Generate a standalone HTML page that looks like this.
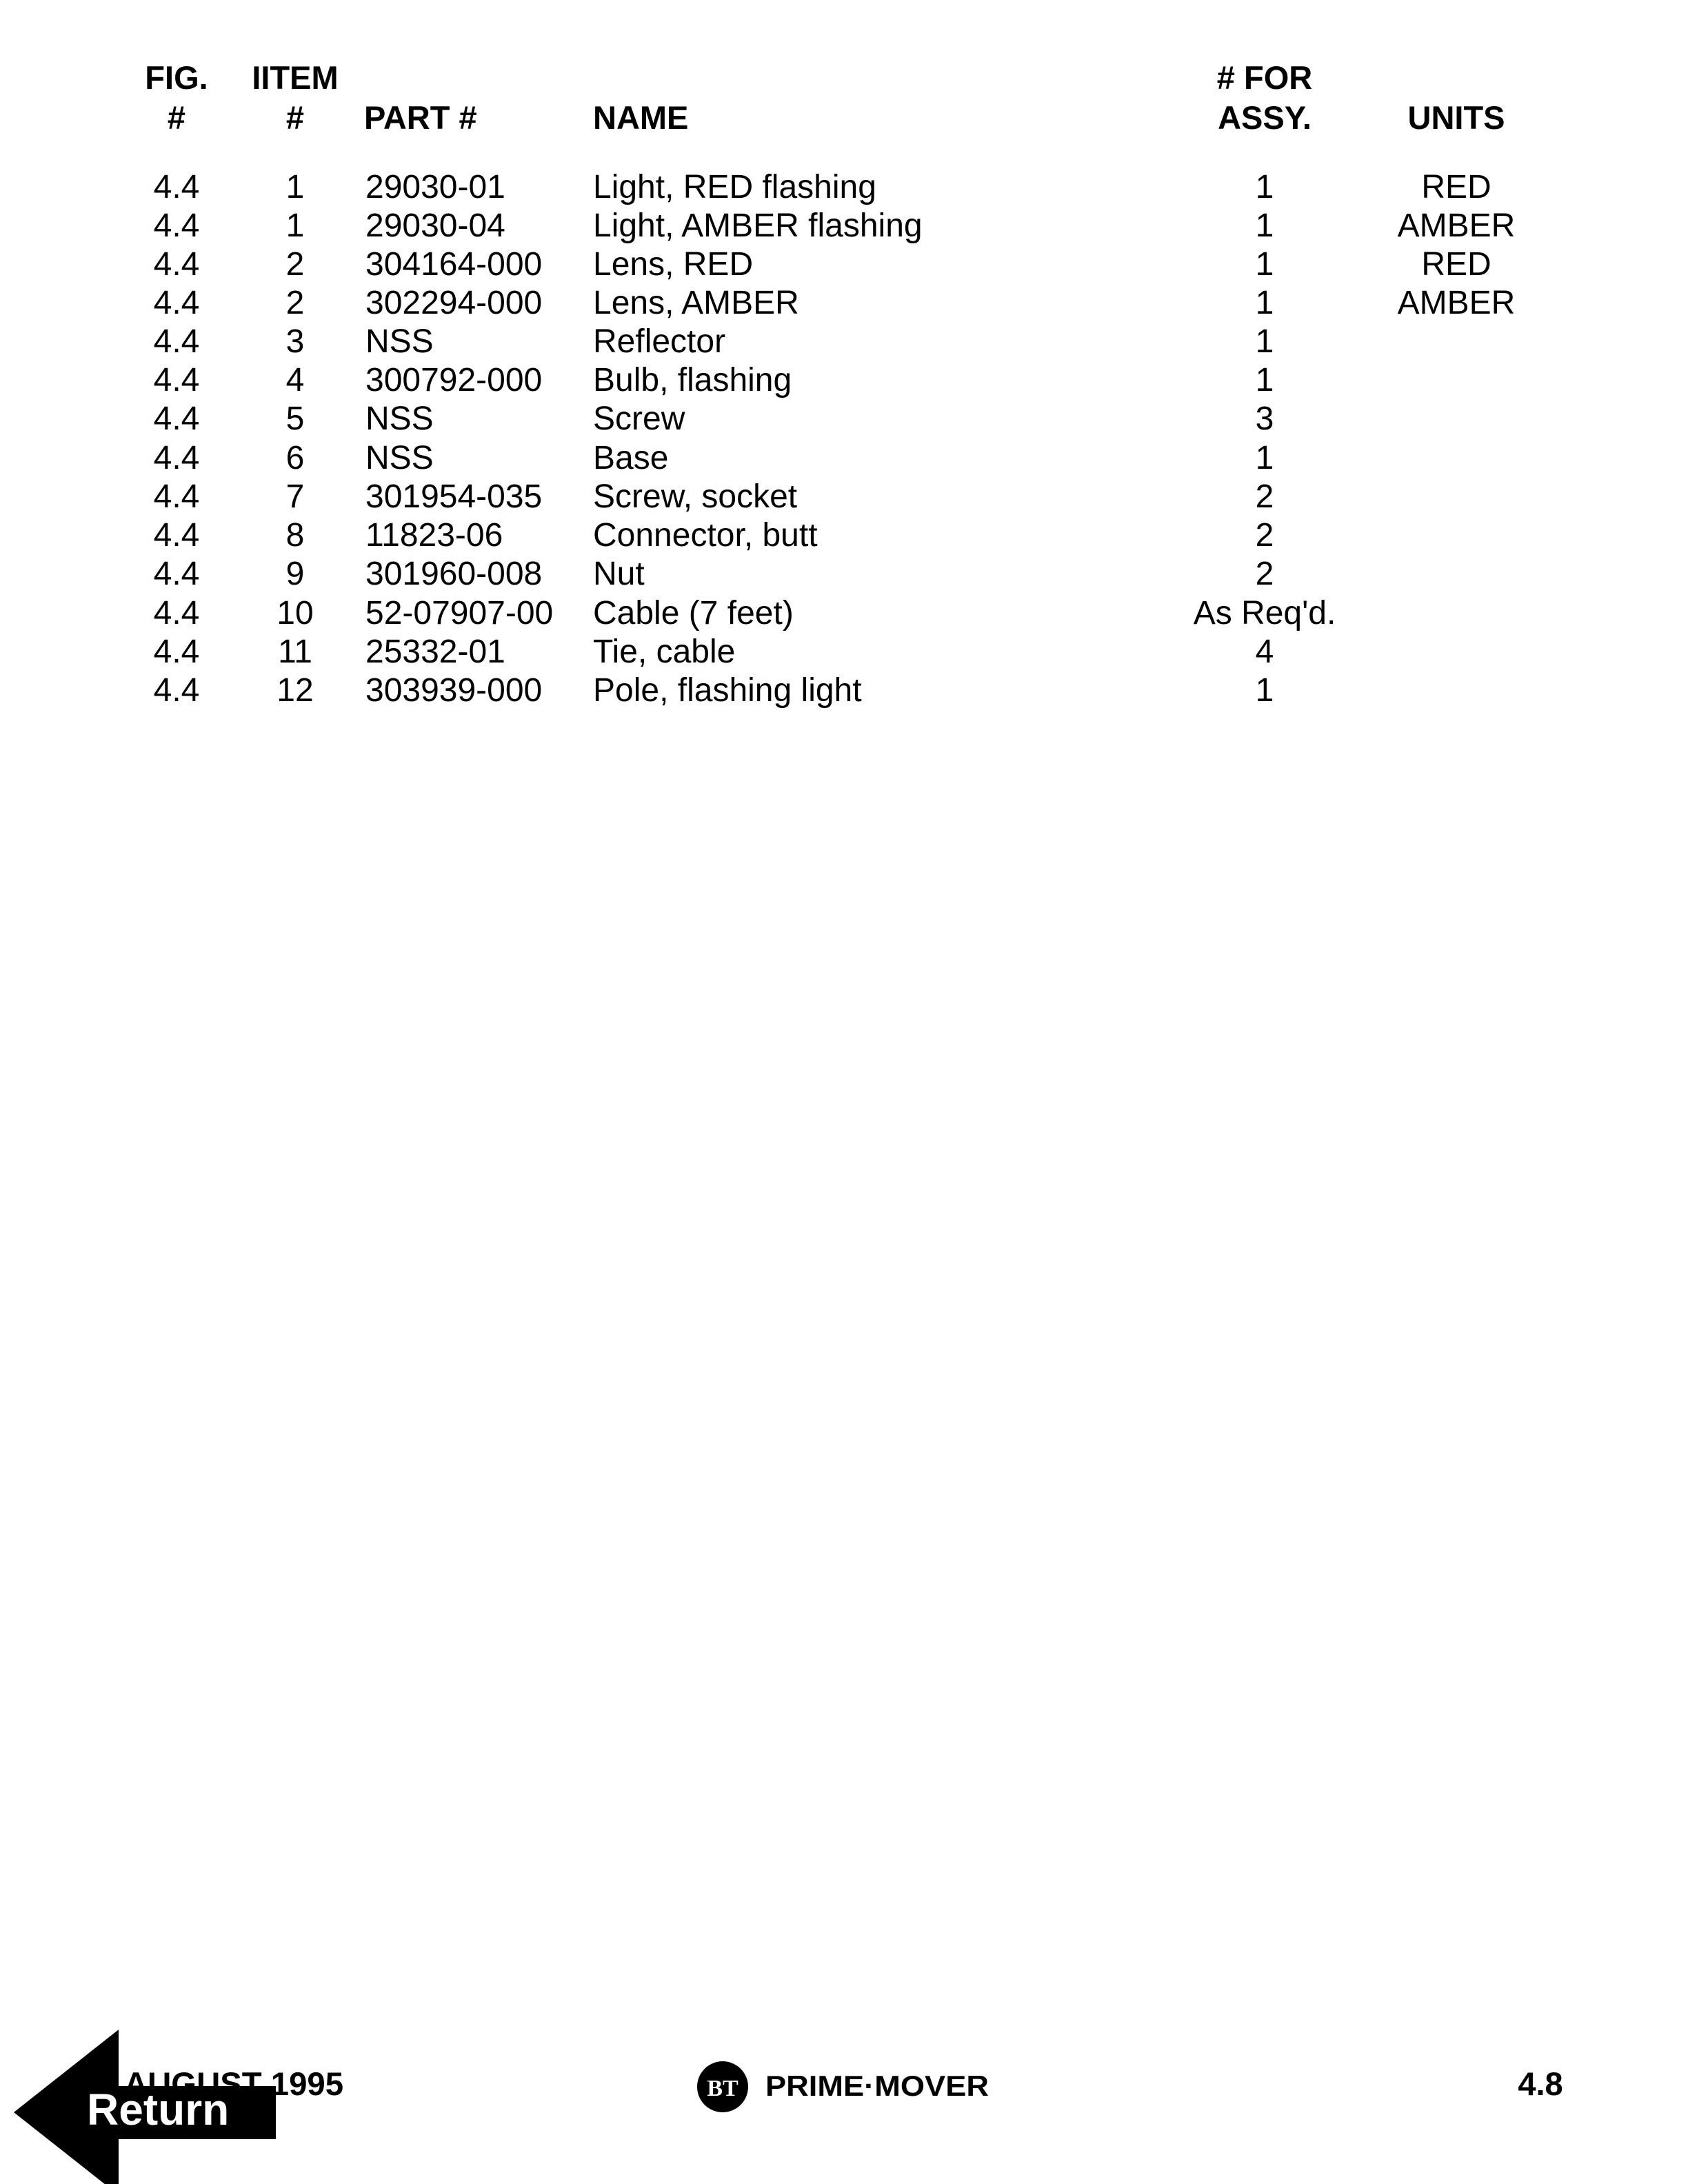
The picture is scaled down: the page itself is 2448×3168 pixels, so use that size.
<!DOCTYPE html>
<html><head><style>
html,body{margin:0;padding:0;background:#fff;}
svg{display:block;}
text{font-family:"Liberation Sans",Arial,sans-serif;fill:#000;}
.h{font-weight:bold;font-size:47px;}
.d{font-size:48px;}
</style></head><body>
<svg width="2448" height="3168" viewBox="0 0 2448 3168" xmlns="http://www.w3.org/2000/svg">
<text x="256" y="129" text-anchor="middle" class="h">FIG.</text>
<text x="428" y="129" text-anchor="middle" class="h">IITEM</text>
<text x="256" y="187" text-anchor="middle" class="h">#</text>
<text x="428" y="187" text-anchor="middle" class="h">#</text>
<text x="528" y="187" class="h">PART #</text>
<text x="860" y="187" class="h">NAME</text>
<text x="1834" y="129" text-anchor="middle" class="h"># FOR</text>
<text x="1834" y="187" text-anchor="middle" class="h">ASSY.</text>
<text x="2112" y="187" text-anchor="middle" class="h">UNITS</text>
<g>
<text x="256" y="287" text-anchor="middle" class="d">4.4</text><text x="428" y="287" text-anchor="middle" class="d">1</text><text x="530" y="287" class="d">29030-01</text><text x="860" y="287" class="d">Light, RED flashing</text><text x="1834" y="287" text-anchor="middle" class="d">1</text><text x="2112" y="287" text-anchor="middle" class="d">RED</text>
<text x="256" y="343" text-anchor="middle" class="d">4.4</text><text x="428" y="343" text-anchor="middle" class="d">1</text><text x="530" y="343" class="d">29030-04</text><text x="860" y="343" class="d">Light, AMBER flashing</text><text x="1834" y="343" text-anchor="middle" class="d">1</text><text x="2112" y="343" text-anchor="middle" class="d">AMBER</text>
<text x="256" y="399" text-anchor="middle" class="d">4.4</text><text x="428" y="399" text-anchor="middle" class="d">2</text><text x="530" y="399" class="d">304164-000</text><text x="860" y="399" class="d">Lens, RED</text><text x="1834" y="399" text-anchor="middle" class="d">1</text><text x="2112" y="399" text-anchor="middle" class="d">RED</text>
<text x="256" y="455" text-anchor="middle" class="d">4.4</text><text x="428" y="455" text-anchor="middle" class="d">2</text><text x="530" y="455" class="d">302294-000</text><text x="860" y="455" class="d">Lens, AMBER</text><text x="1834" y="455" text-anchor="middle" class="d">1</text><text x="2112" y="455" text-anchor="middle" class="d">AMBER</text>
<text x="256" y="511" text-anchor="middle" class="d">4.4</text><text x="428" y="511" text-anchor="middle" class="d">3</text><text x="530" y="511" class="d">NSS</text><text x="860" y="511" class="d">Reflector</text><text x="1834" y="511" text-anchor="middle" class="d">1</text>
<text x="256" y="567" text-anchor="middle" class="d">4.4</text><text x="428" y="567" text-anchor="middle" class="d">4</text><text x="530" y="567" class="d">300792-000</text><text x="860" y="567" class="d">Bulb, flashing</text><text x="1834" y="567" text-anchor="middle" class="d">1</text>
<text x="256" y="623" text-anchor="middle" class="d">4.4</text><text x="428" y="623" text-anchor="middle" class="d">5</text><text x="530" y="623" class="d">NSS</text><text x="860" y="623" class="d">Screw</text><text x="1834" y="623" text-anchor="middle" class="d">3</text>
<text x="256" y="680" text-anchor="middle" class="d">4.4</text><text x="428" y="680" text-anchor="middle" class="d">6</text><text x="530" y="680" class="d">NSS</text><text x="860" y="680" class="d">Base</text><text x="1834" y="680" text-anchor="middle" class="d">1</text>
<text x="256" y="736" text-anchor="middle" class="d">4.4</text><text x="428" y="736" text-anchor="middle" class="d">7</text><text x="530" y="736" class="d">301954-035</text><text x="860" y="736" class="d">Screw, socket</text><text x="1834" y="736" text-anchor="middle" class="d">2</text>
<text x="256" y="792" text-anchor="middle" class="d">4.4</text><text x="428" y="792" text-anchor="middle" class="d">8</text><text x="530" y="792" class="d">11823-06</text><text x="860" y="792" class="d">Connector, butt</text><text x="1834" y="792" text-anchor="middle" class="d">2</text>
<text x="256" y="848" text-anchor="middle" class="d">4.4</text><text x="428" y="848" text-anchor="middle" class="d">9</text><text x="530" y="848" class="d">301960-008</text><text x="860" y="848" class="d">Nut</text><text x="1834" y="848" text-anchor="middle" class="d">2</text>
<text x="256" y="905" text-anchor="middle" class="d">4.4</text><text x="428" y="905" text-anchor="middle" class="d">10</text><text x="530" y="905" class="d">52-07907-00</text><text x="860" y="905" class="d">Cable (7 feet)</text><text x="1834" y="905" text-anchor="middle" class="d">As Req'd.</text>
<text x="256" y="961" text-anchor="middle" class="d">4.4</text><text x="428" y="961" text-anchor="middle" class="d">11</text><text x="530" y="961" class="d">25332-01</text><text x="860" y="961" class="d">Tie, cable</text><text x="1834" y="961" text-anchor="middle" class="d">4</text>
<text x="256" y="1017" text-anchor="middle" class="d">4.4</text><text x="428" y="1017" text-anchor="middle" class="d">12</text><text x="530" y="1017" class="d">303939-000</text><text x="860" y="1017" class="d">Pole, flashing light</text><text x="1834" y="1017" text-anchor="middle" class="d">1</text>
</g>
<text x="180" y="3039" textLength="318" lengthAdjust="spacingAndGlyphs" style="font-weight:bold;font-size:47px">AUGUST 1995</text>
<polygon points="20,3064 172,2944 172,3026 400,3026 400,3103 172,3103 172,3184" fill="#000"/>
<text x="126" y="3082" style="font-weight:bold;font-size:64px;fill:#fff">Return</text>
<ellipse cx="1048" cy="3027" rx="37" ry="37" fill="#000"/>
<text x="1048" y="3040" text-anchor="middle" style="font-family:'Liberation Serif',serif;font-weight:bold;font-size:34px;fill:#fff">BT</text>
<text x="1110" y="3040" textLength="324" lengthAdjust="spacingAndGlyphs" style="font-weight:bold;font-size:42px">PRIME·MOVER</text>
<text x="2234" y="3039" text-anchor="middle" style="font-weight:bold;font-size:47px">4.8</text>
</svg>
</body></html>
